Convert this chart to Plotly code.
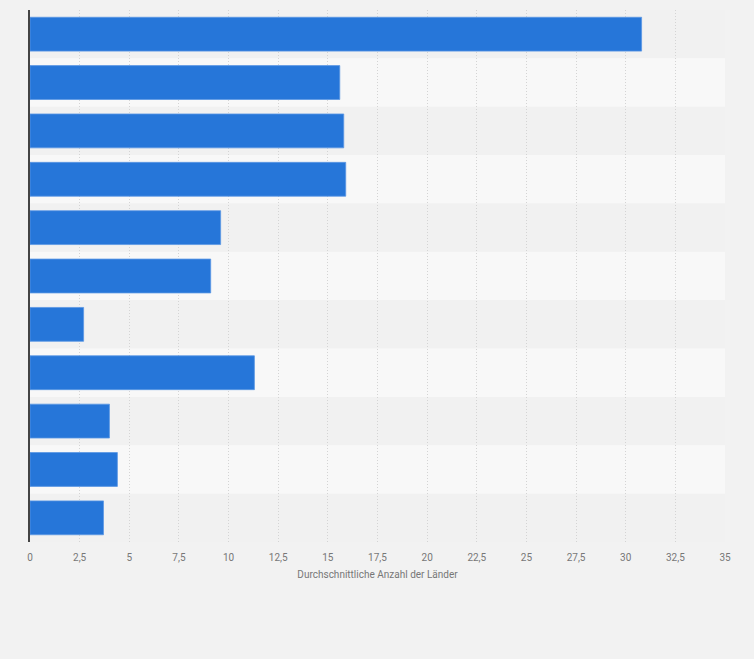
import plotly.graph_objects as go

# bar values, top to bottom (category names are not shown in the chart)
categories = ["1", "2", "3", "4", "5", "6", "7", "8", "9", "10", "11"]
values = [30.8, 15.6, 15.8, 15.9, 9.6, 9.1, 2.7, 11.3, 4.0, 4.4, 3.7]

x_title = "Durchschnittliche Anzahl der Länder"

BAR_COLOR = "#2676d9"
BAND_DARK = "#f1f1f1"
BAND_LIGHT = "#f8f8f8"
TEXT_COLOR = "#777777"

fig = go.Figure()

fig.add_trace(go.Bar(
    x=values, y=categories,
    orientation="h",
    marker=dict(color=BAR_COLOR, line=dict(color="#5b97e3", width=0.8)),
    width=0.7,
    hovertemplate="%{x}<extra></extra>",
))

# alternating row bands behind the bars
shapes = []
for i, cat in enumerate(categories):
    shapes.append(dict(
        type="rect", xref="paper", yref="y",
        x0=0, x1=1, y0=i - 0.5, y1=i + 0.5,
        fillcolor=BAND_DARK if i % 2 == 0 else BAND_LIGHT,
        line=dict(width=0), layer="below",
    ))

fig.update_layout(
    shapes=shapes,
    width=754, height=659,
    margin=dict(l=30, r=29, t=10, b=117),
    paper_bgcolor="#f2f2f2",
    plot_bgcolor="rgba(0,0,0,0)",
    separators=",.",
    showlegend=False,
    font=dict(family="Roboto, Arial, sans-serif", size=10, color=TEXT_COLOR),
    xaxis=dict(
        range=[0, 35],
        dtick=2.5, tick0=0,
        showgrid=True, gridcolor="#d4d4d4", gridwidth=1, griddash="1px,2px",
        zeroline=False,
        ticks="", ticklabelstandoff=8,
        tickfont=dict(size=10, color=TEXT_COLOR),
        title=dict(text=x_title, font=dict(size=10, color=TEXT_COLOR), standoff=8),
        fixedrange=True,
    ),
    yaxis=dict(
        autorange="reversed",
        showticklabels=False,
        showgrid=False,
        showline=True, linecolor="#444444", linewidth=1.5,
        ticks="",
        fixedrange=True,
    ),
)

# drop the default page margin so the figure sits flush in the window
fig.write_html(
    "out.html",
    config={"displayModeBar": False},
    post_script="document.body.style.margin='0';",
)
